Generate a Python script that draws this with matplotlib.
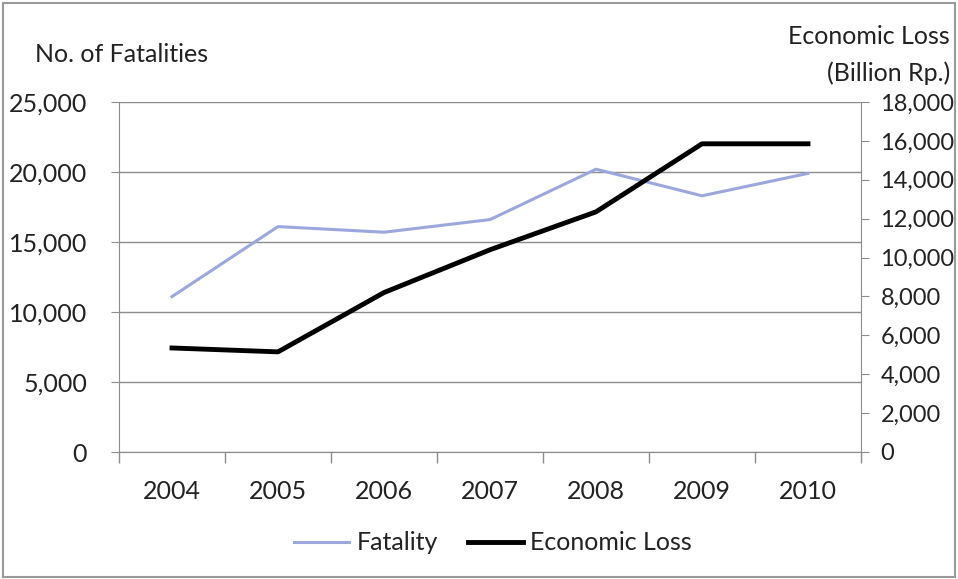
import matplotlib.pyplot as plt
import numpy as np
from matplotlib.patches import Rectangle

years = ['2004', '2005', '2006', '2007', '2008', '2009', '2010']
fatality = [11100, 16100, 15700, 16600, 20200, 18300, 19900]
economic_loss = [5350, 5150, 8200, 10400, 12350, 15850, 15850]

left_ticks = [0, 5000, 10000, 15000, 20000, 25000]
right_ticks = list(range(0, 18001, 2000))

plt.rcParams['font.family'] = ['Lato', 'DejaVu Sans']
text_color = '#222222'
axis_grey = '#8c8c8c'
fs = 18

fig = plt.figure(figsize=(9.58, 5.79), dpi=100)
# Outer chart border
fig.patches.append(Rectangle((0.003, 0.004), 0.994, 0.99, transform=fig.transFigure,
                             fill=False, edgecolor='#9a9a9a', linewidth=1.5))

ax = fig.add_axes([119 / 958, 1 - 452 / 579, 742 / 958, 350 / 579])
x = np.arange(len(years))

ax.plot(x, fatality, color='#9ca7dd', linewidth=2.2, zorder=3)
ax.set_xlim(-0.5, len(years) - 0.5)
ax.set_ylim(0, 25000)
ax.set_yticks(left_ticks)
ax.set_yticklabels([f'{v:,}' for v in left_ticks])
ax.set_xticks(x)
ax.set_xticklabels(years)
ax.set_xticks(np.arange(-0.5, len(years)), minor=True)
ax.tick_params(axis='x', which='major', length=0, pad=20, labelsize=fs, labelcolor=text_color)
ax.tick_params(axis='x', which='minor', length=8, color=axis_grey, width=1)
ax.tick_params(axis='y', length=6, color=axis_grey, labelsize=fs, labelcolor=text_color, pad=17)
ax.grid(axis='y', color=axis_grey, linewidth=1)
ax.set_axisbelow(True)
for side in ['top', 'right']:
    ax.spines[side].set_visible(False)
for side in ['left', 'bottom']:
    ax.spines[side].set_color(axis_grey)

ax2 = ax.twinx()
ax2.plot(x, economic_loss, color='black', linewidth=3.5, zorder=4)
ax2.set_ylim(0, 18000)
ax2.set_yticks(right_ticks)
ax2.set_yticklabels([f'{v:,}' for v in right_ticks])
ax2.tick_params(axis='y', length=6, color=axis_grey, labelsize=17, labelcolor=text_color, pad=8)
for side in ['top', 'left', 'bottom']:
    ax2.spines[side].set_visible(False)
ax2.spines['right'].set_color(axis_grey)

fig.text(35 / 958, 1 - 55 / 579, 'No. of Fatalities', fontsize=fs, color=text_color,
         ha='left', va='center')
fig.text(950 / 958, 1 - 36 / 579, 'Economic Loss', fontsize=fs, color=text_color,
         ha='right', va='center')
fig.text(950 / 958, 1 - 73 / 579, '(Billion Rp.)', fontsize=fs, color=text_color,
         ha='right', va='center')

h1, = ax.plot([], [], color='#9ca7dd', linewidth=2.2)
h2, = ax2.plot([], [], color='black', linewidth=3.5)
fig.legend([h1, h2], ['Fatality', 'Economic Loss'], loc='center',
           bbox_to_anchor=(493 / 958, 1 - 543 / 579), ncol=2, frameon=False,
           fontsize=fs, handlelength=2.2, handletextpad=0.3, columnspacing=1.2,
           labelcolor=text_color)

fig.savefig('out.png', dpi=100)
